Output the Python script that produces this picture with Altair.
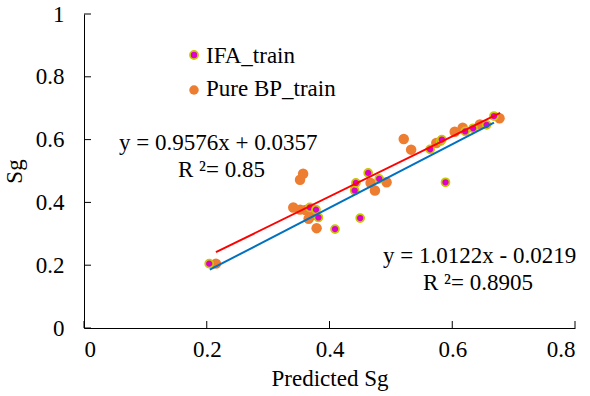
import altair as alt
import pandas as pd

# IFA_train (magenta points)
ifa_x = [0.204, 0.368, 0.378, 0.382, 0.409, 0.450, 0.441, 0.443, 0.463, 0.481,
         0.589, 0.564, 0.581, 0.583, 0.621, 0.634, 0.656, 0.668]
ifa_y = [0.205, 0.384, 0.377, 0.352, 0.315, 0.350, 0.438, 0.462, 0.494, 0.475,
         0.464, 0.569, 0.595, 0.600, 0.626, 0.636, 0.647, 0.675]

# Pure BP_train (orange points)
bp_x = [0.215, 0.341, 0.352, 0.361, 0.366, 0.372, 0.379, 0.352, 0.357, 0.467,
        0.474, 0.493, 0.521, 0.533, 0.574, 0.604, 0.617, 0.645, 0.677]
bp_y = [0.205, 0.384, 0.377, 0.376, 0.348, 0.360, 0.318, 0.472, 0.491, 0.462,
        0.438, 0.464, 0.602, 0.568, 0.589, 0.625, 0.638, 0.648, 0.668]

# Trendlines (from displayed equations)
ifa_slope, ifa_int = 1.0122, -0.0219
bp_slope, bp_int = 0.9576, 0.0357
ifa_xr = [0.205, 0.668]
bp_xr = [0.215, 0.678]

x_ticks = [0, 0.2, 0.4, 0.6, 0.8]
y_ticks = [0, 0.2, 0.4, 0.6, 0.8, 1.0]

W, H = 491, 314
FONT = "Liberation Serif"
FS = 23

ifa_df = pd.DataFrame({"x": ifa_x, "y": ifa_y})
bp_df = pd.DataFrame({"x": bp_x, "y": bp_y})
ifa_line = pd.DataFrame({"x": ifa_xr, "y": [ifa_slope * v + ifa_int for v in ifa_xr]})
bp_line = pd.DataFrame({"x": bp_xr, "y": [bp_slope * v + bp_int for v in bp_xr]})

xs = alt.Scale(domain=[0, 0.8], nice=False, zero=False)
ys = alt.Scale(domain=[0, 1], nice=False, zero=False)

X = alt.X("x:Q", scale=xs, title="Predicted Sg",
          axis=alt.Axis(values=x_ticks, format="~g", tickSize=0, labelPadding=10,
                        titlePadding=6, grid=False))
Y = alt.Y("y:Q", scale=ys, title="Sg",
          axis=alt.Axis(values=y_ticks, format="~g", tickSize=0, labelPadding=20,
                        titlePadding=9, grid=False))

bp_pts = alt.Chart(bp_df).mark_circle(size=110, color="#ED7D31", opacity=1).encode(x=X, y=Y)
ifa_pts = alt.Chart(ifa_df).mark_point(filled=True, shape="circle", size=64, fill="#DD00CC",
                                        stroke="#C8C800", strokeWidth=1.7, opacity=1).encode(x=X, y=Y)
ifa_ln = alt.Chart(ifa_line).mark_line(color="#0070C0", strokeWidth=2).encode(x="x:Q", y="y:Q")
bp_ln = alt.Chart(bp_line).mark_line(color="#FF0000", strokeWidth=2).encode(x="x:Q", y="y:Q")

# inside ticks
xt = alt.Chart(pd.DataFrame({"x": x_ticks})).mark_rule(color="black", strokeWidth=1).encode(
    x="x:Q", y=alt.value(H), y2=alt.value(H - 7))
yt = alt.Chart(pd.DataFrame({"y": y_ticks})).mark_rule(color="black", strokeWidth=1).encode(
    y="y:Q", x=alt.value(0), x2=alt.value(7))

# annotations
ann = pd.DataFrame({
    "t": ["y = 0.9576x + 0.0357", "R ²= 0.85", "y = 1.0122x - 0.0219", "R ²= 0.8905"],
    "px": [119 - 84, 178 - 84, 383 - 84, 423 - 84],
    "py": [150 - 14, 177 - 14, 263 - 14, 290 - 14],
})
ann_txt = alt.Chart(ann).mark_text(align="left", baseline="alphabetic", font=FONT,
                                   fontSize=FS, color="black").encode(
    x=alt.X("px:Q", scale=None), y=alt.Y("py:Q", scale=None), text="t:N")

# legend
leg = pd.DataFrame({"lab": ["IFA_train", "Pure BP_train"],
                    "px": [206 - 84, 206 - 84], "py": [63 - 14, 96 - 14]})
leg_txt = alt.Chart(leg).mark_text(align="left", baseline="alphabetic", font=FONT,
                                   fontSize=FS, color="black").encode(
    x=alt.X("px:Q", scale=None), y=alt.Y("py:Q", scale=None), text="lab:N")
leg_m1 = alt.Chart(pd.DataFrame({"px": [194 - 84], "py": [55 - 14]})).mark_point(
    filled=True, shape="circle", size=66, fill="#DD00CC", stroke="#C8C800",
    strokeWidth=1.7, opacity=1).encode(x=alt.X("px:Q", scale=None), y=alt.Y("py:Q", scale=None))
leg_m2 = alt.Chart(pd.DataFrame({"px": [194 - 84], "py": [90 - 14]})).mark_circle(
    size=90, color="#ED7D31", opacity=1).encode(x=alt.X("px:Q", scale=None), y=alt.Y("py:Q", scale=None))

chart = alt.layer(bp_pts, ifa_pts, ifa_ln, bp_ln, xt, yt, ann_txt, leg_txt, leg_m1, leg_m2).properties(
    width=W, height=H,
    background="white",
    autosize=alt.AutoSizeParams(type="none"),
    padding={"left": 84, "top": 14, "right": 15, "bottom": 68},
).configure_view(stroke=None).configure_axis(
    labelFont=FONT, labelFontSize=FS, labelColor="black",
    titleFont=FONT, titleFontSize=FS, titleFontWeight="normal", titleColor="black",
    domainColor="black", domainWidth=1,
)

chart.save("out.html", embed_options={"renderer": "svg", "actions": False})
